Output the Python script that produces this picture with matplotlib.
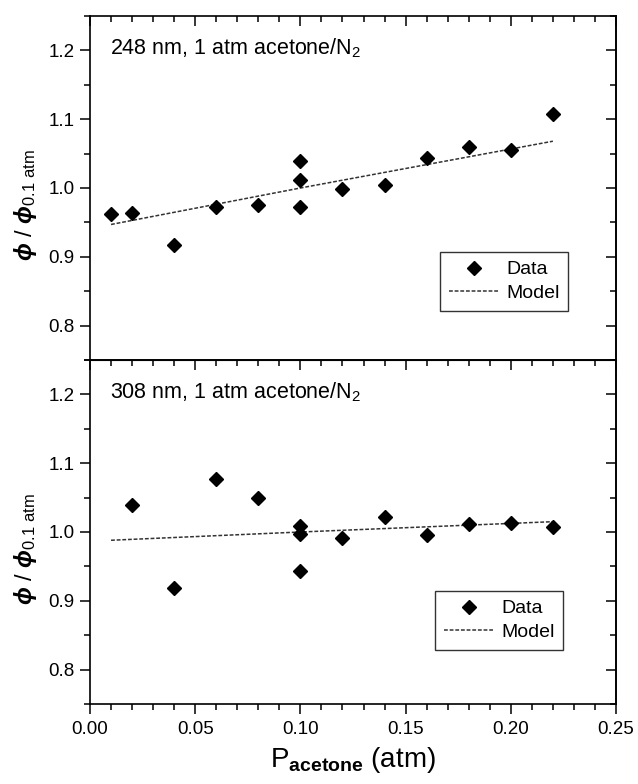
import matplotlib
matplotlib.use("Agg")
import matplotlib.pyplot as plt
from matplotlib.ticker import MultipleLocator, FormatStrFormatter
from matplotlib.lines import Line2D

plt.rcParams['font.family'] = ['Liberation Sans', 'DejaVu Sans']
plt.rcParams['mathtext.fontset'] = 'custom'
plt.rcParams['mathtext.rm'] = 'Liberation Sans'
plt.rcParams['mathtext.it'] = 'Liberation Sans:italic:bold'
plt.rcParams['mathtext.bf'] = 'Liberation Sans:bold'

# ---- data ----
x248 = [0.01, 0.02, 0.04, 0.06, 0.08, 0.10, 0.10, 0.10, 0.12, 0.14, 0.16, 0.18, 0.20, 0.22]
y248 = [0.962, 0.964, 0.917, 0.973, 0.976, 1.039, 1.012, 0.973, 0.998, 1.004, 1.044, 1.059, 1.055, 1.107]
model248_x = [0.01, 0.10, 0.22]
model248_y = [0.947, 1.000, 1.068]

x308 = [0.02, 0.04, 0.06, 0.08, 0.10, 0.10, 0.10, 0.12, 0.14, 0.16, 0.18, 0.20, 0.22]
y308 = [1.039, 0.919, 1.077, 1.050, 1.009, 0.997, 0.944, 0.991, 1.022, 0.995, 1.011, 1.013, 1.007]
model308_x = [0.01, 0.10, 0.22]
model308_y = [0.988, 1.000, 1.015]

labels = ["248 nm, 1 atm acetone/N$_{\\mathrm{2}}$", "308 nm, 1 atm acetone/N$_{\\mathrm{2}}$"]
legend_labels = ['Data', 'Model']

fig = plt.figure(figsize=(6.38, 7.84), dpi=100)
L, R = 90/638, 616/638
top_ax = fig.add_axes([L, 1-360/784, R-L, (360-16)/784])
bot_ax = fig.add_axes([L, 1-704/784, R-L, (704-360)/784])

legend_pos = [(440, 252, 16), (435, 591, 360)]
TL = 13.5

for ax, xs, ys, mx, my, lab, lp in [
        (top_ax, x248, y248, model248_x, model248_y, labels[0], legend_pos[0]),
        (bot_ax, x308, y308, model308_x, model308_y, labels[1], legend_pos[1])]:
    ax.plot(mx, my, linestyle=(0, (2.5, 1.2)), color='#333333', lw=1.1, zorder=2)
    ax.plot(xs, ys, linestyle='none', marker='D', ms=6.8, color='black', zorder=3)
    ax.set_xlim(0, 0.25)
    ax.set_ylim(0.75, 1.25)
    ax.xaxis.set_major_locator(MultipleLocator(0.05))
    ax.xaxis.set_minor_locator(MultipleLocator(0.01))
    ax.yaxis.set_major_locator(MultipleLocator(0.1))
    ax.yaxis.set_minor_locator(MultipleLocator(0.05))
    ax.yaxis.set_major_formatter(FormatStrFormatter('%.1f'))
    ax.xaxis.set_major_formatter(FormatStrFormatter('%.2f'))
    for s in ax.spines.values():
        s.set_linewidth(1.2)
    ax.tick_params(axis='y', which='both', left=True, right=False, direction='out',
                   labelsize=TL, width=1.1, pad=4)
    ax.tick_params(axis='y', which='major', length=7)
    ax.tick_params(axis='y', which='minor', length=4)
    ax.text(0.038, 0.905, lab, transform=ax.transAxes, fontsize=15.5, ha='left', va='center')
    ax.set_ylabel(r'$\phi$ / $\phi_{\mathrm{0.1\ atm}}$', fontsize=17)
    ax.yaxis.set_label_coords(-0.097, 0.45)
    handles = [Line2D([], [], linestyle='none', marker='D', ms=6.8, color='black'),
               Line2D([], [], linestyle=(0, (2.5, 1.2)), color='#333333', lw=1.1)]
    leg = ax.legend(handles, legend_labels, loc='upper left',
                    bbox_to_anchor=((lp[0]-90)/526, 1-(lp[1]-lp[2])/344),
                    fontsize=14, frameon=True, fancybox=False, edgecolor='black',
                    handlelength=2.55, handletextpad=0.4, borderpad=0.45, labelspacing=0.3,
                    borderaxespad=0)
    leg.get_frame().set_linewidth(1.0)

    sec = ax.secondary_yaxis('right')
    sec.yaxis.set_major_locator(MultipleLocator(0.1))
    sec.yaxis.set_minor_locator(MultipleLocator(0.05))
    sec.tick_params(which='both', direction='in', labelright=False, width=1.1)
    sec.tick_params(which='major', length=7)
    sec.tick_params(which='minor', length=4)
    sec.spines['right'].set_linewidth(1.2)

# top axis: ticks inward on top, none on bottom, no labels
top_ax.tick_params(axis='x', which='both', bottom=False, top=True, direction='in',
                   labelbottom=False, width=1.1)
top_ax.tick_params(axis='x', which='major', length=7)
top_ax.tick_params(axis='x', which='minor', length=4)

# bottom axis: outward ticks on bottom
bot_ax.tick_params(axis='x', which='both', bottom=True, top=False, direction='out',
                   labelsize=TL, width=1.1, pad=5)
bot_ax.tick_params(axis='x', which='major', length=7)
bot_ax.tick_params(axis='x', which='minor', length=4)
sx = bot_ax.secondary_xaxis('top')
sx.xaxis.set_major_locator(MultipleLocator(0.05))
sx.xaxis.set_minor_locator(MultipleLocator(0.01))
sx.tick_params(which='both', direction='in', labeltop=False, width=1.1)
sx.tick_params(which='major', length=7)
sx.tick_params(which='minor', length=4)

bot_ax.set_xlabel(r'P$_{\mathbf{acetone}}$ (atm)', fontsize=20, labelpad=5)

fig.savefig('out.png', dpi=100)
